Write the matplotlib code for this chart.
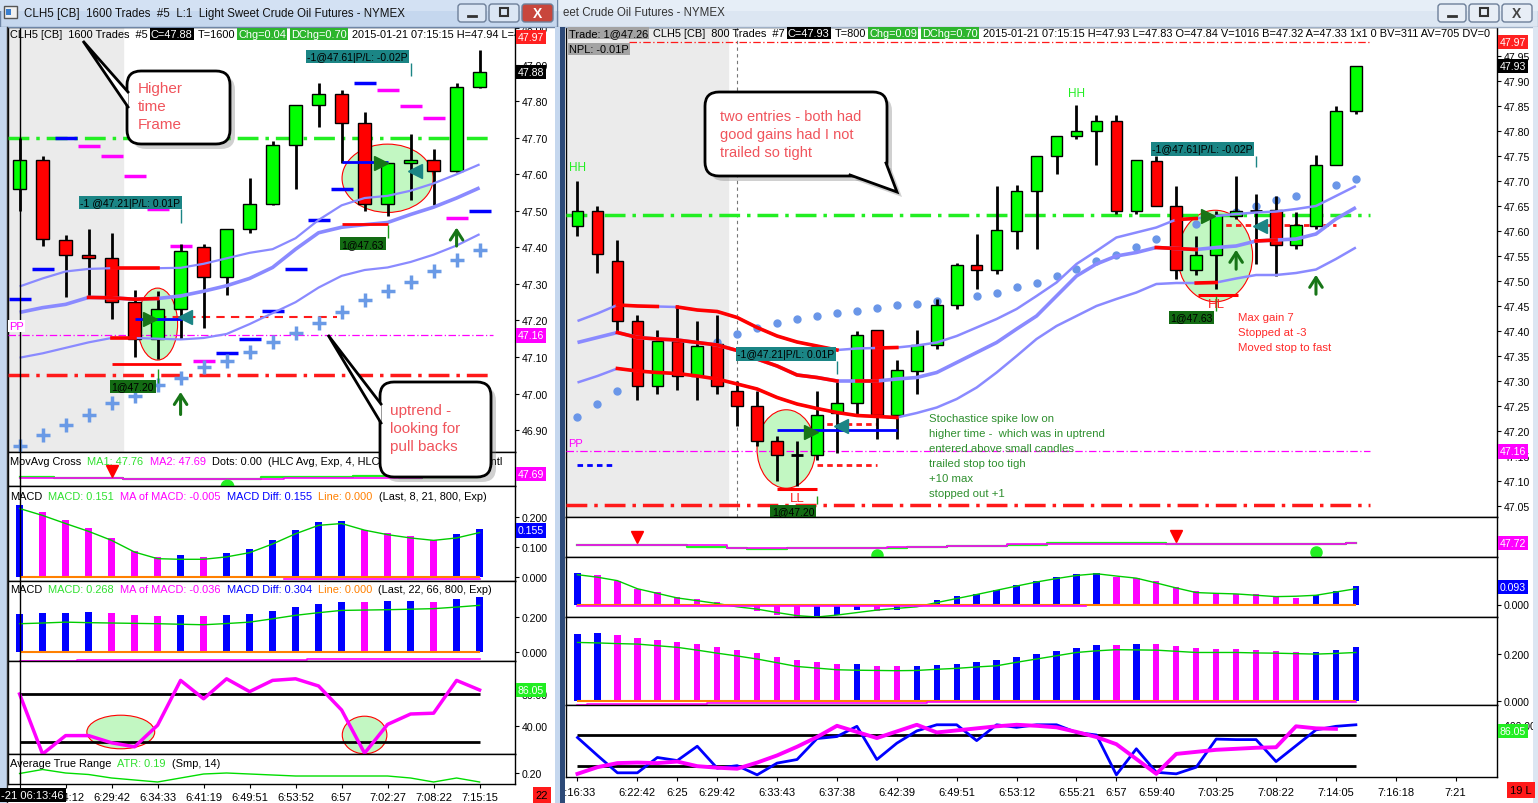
import numpy as np
import matplotlib
matplotlib.use("Agg")
import matplotlib.pyplot as plt
import matplotlib.transforms as mtransforms
from matplotlib.patches import Rectangle, Ellipse, FancyBboxPatch, Polygon

plt.rcParams['font.family'] = ['Liberation Sans', 'DejaVu Sans']

W, H = 1538, 804

# ---------------- left window : CLH5 1600 trades ----------------
l_open = [47.56, 47.64, 47.42, 47.38, 47.37, 47.25, 47.15, 47.23, 47.40, 47.32, 47.45,
          47.52, 47.68, 47.79, 47.82, 47.74, 47.52, 47.63, 47.64, 47.61, 47.84]
l_high = [47.70, 47.65, 47.433, 47.45, 47.44, 47.283, 47.28, 47.41, 47.41, 47.45, 47.59,
          47.69, 47.79, 47.85, 47.83, 47.77, 47.63, 47.71, 47.67, 47.85, 47.94]
l_low = [47.50, 47.405, 47.265, 47.265, 47.205, 47.10, 47.095, 47.15, 47.18, 47.27, 47.44,
         47.515, 47.56, 47.73, 47.63, 47.50, 47.485, 47.53, 47.515, 47.605, 47.835]
l_close = [47.64, 47.424, 47.38, 47.37, 47.25, 47.15, 47.23, 47.39, 47.32, 47.45, 47.52,
           47.68, 47.79, 47.82, 47.74, 47.52, 47.63, 47.64, 47.61, 47.84, 47.88]

l_band_up = [47.293, 47.315, 47.334, 47.341, 47.343, 47.343, 47.343, 47.344, 47.355, 47.37, 47.385,
             47.395, 47.425, 47.475, 47.515, 47.535, 47.541, 47.555, 47.575, 47.60, 47.627]
l_band_mid = [47.222, 47.235, 47.244, 47.263, 47.262, 47.258, 47.26, 47.267, 47.28, 47.295, 47.315,
              47.345, 47.395, 47.44, 47.455, 47.462, 47.468, 47.49, 47.51, 47.535, 47.563]
l_band_low = [47.098, 47.11, 47.125, 47.14, 47.152, 47.152, 47.15, 47.148, 47.152, 47.163, 47.19,
              47.22, 47.25, 47.29, 47.322, 47.338, 47.345, 47.36, 47.38, 47.405, 47.436]
l_red_up = [(4, 6)]
l_red_mid = [(3, 6)]
l_red_low = [(4, 5)]

l_cross = [46.857, 46.886, 46.915, 46.942, 46.973, 46.993, 47.022, 47.042, 47.072, 47.09, 47.114,
           47.14, 47.167, 47.194, 47.224, 47.255, 47.28, 47.306, 47.336, 47.366, 47.394]
l_blue_idx = [0, 1, 2, 9, 10, 11, 12, 13, 14, 15, 20]
l_blue_val = [47.26, 47.34, 47.70, 47.11, 47.148, 47.227, 47.34, 47.474, 47.559, 47.85, 47.50]
l_mag_idx = [3, 4, 5, 6, 7, 8, 16, 17, 18, 19]
l_mag_val = [47.677, 47.65, 47.596, 47.505, 47.405, 47.09, 47.83, 47.787, 47.753, 47.479]

l_ma1 = [47.656, 47.656, 47.649, 47.649, 47.649, 47.638, 47.638, 47.638, 47.638, 47.638, 47.638,
         47.656, 47.662, 47.662, 47.662, 47.672, 47.672, 47.652, 47.655, 47.655, 47.655]
l_ma2 = [47.649, 47.649, 47.649, 47.649, 47.649, 47.638, 47.638, 47.638, 47.638, 47.638, 47.638,
         47.643, 47.648, 47.649, 47.649, 47.652, 47.652, 47.652, 47.655, 47.655, 47.655]

l_m1_hist = [0.241, 0.217, 0.191, 0.163, 0.13, 0.088, 0.068, 0.074, 0.068, 0.081, 0.094,
             0.124, 0.158, 0.183, 0.188, 0.158, 0.148, 0.138, 0.124, 0.144, 0.161]
l_m1_sig = [0.228, 0.205, 0.178, 0.152, 0.122, 0.083, 0.061, 0.059, 0.059, 0.067, 0.081,
            0.11, 0.144, 0.172, 0.178, 0.156, 0.141, 0.13, 0.122, 0.13, 0.148]
l_m1_ma = [np.nan, np.nan, np.nan, np.nan, np.nan, np.nan, np.nan, np.nan, np.nan, np.nan, np.nan,
           np.nan, -0.005, -0.005, -0.005, -0.005, -0.005, -0.005, -0.005, -0.005, -0.005]
l_m2_hist = [0.219, 0.225, 0.226, 0.23, 0.225, 0.213, 0.208, 0.21, 0.208, 0.213, 0.219,
             0.236, 0.259, 0.276, 0.288, 0.287, 0.29, 0.293, 0.288, 0.305, 0.316]
l_m2_sig = [0.162, 0.166, 0.171, 0.168, 0.166, 0.164, 0.162, 0.159, 0.156, 0.163, 0.171,
            0.19, 0.21, 0.225, 0.238, 0.24, 0.242, 0.245, 0.248, 0.257, 0.267]
l_m2_ma = [-0.05, -0.05, -0.05, -0.046, -0.046, -0.046, -0.046, -0.046, -0.046, -0.046, -0.046,
           -0.046, -0.046, -0.04, -0.04, -0.04, -0.04, -0.04, -0.04, -0.04, -0.04]
l_stoch = [80, 5, 28, 28, 19, 14, 41, 97, 74, 99, 83, 97, 99, 90, 60, 6, 42, 55, 56, 97, 85]
l_atr = [0.199, 0.207, 0.200, 0.197, 0.19, 0.186, 0.182, 0.19, 0.198, 0.200, 0.198,
         0.196, 0.194, 0.194, 0.194, 0.194, 0.194, 0.19, 0.182, 0.19, 0.182]
l_tick_pos = [0, 2, 4, 6, 8, 10, 12, 14, 16, 18, 20]
l_tick_lab = ['', '6:24:12', '6:29:42', '6:34:33', '6:41:19', '6:49:51', '6:53:52',
              '6:57', '7:02:27', '7:08:22', '7:15:15']

# ---------------- right window : CLH5 800 trades ----------------
r_open = [47.61, 47.64, 47.54, 47.42, 47.29, 47.38, 47.31, 47.373, 47.28, 47.25, 47.18, 47.152, 47.152,
          47.235, 47.255, 47.402, 47.232, 47.321, 47.371, 47.451, 47.531, 47.521, 47.601, 47.681,
          47.75, 47.79, 47.80, 47.82, 47.641, 47.74, 47.65, 47.521, 47.551, 47.631, 47.64, 47.641,
          47.572, 47.611, 47.731, 47.84]
r_high = [47.70, 47.65, 47.583, 47.432, 47.402, 47.452, 47.42, 47.432, 47.30, 47.28, 47.19, 47.18, 47.28,
          47.30, 47.40, 47.402, 47.342, 47.402, 47.464, 47.537, 47.594, 47.69, 47.692, 47.75,
          47.79, 47.852, 47.832, 47.832, 47.741, 47.75, 47.69, 47.59, 47.641, 47.71, 47.675, 47.67,
          47.637, 47.752, 47.85, 47.93]
r_low = [47.59, 47.515, 47.40, 47.263, 47.273, 47.282, 47.263, 47.273, 47.21, 47.17, 47.10, 47.09, 47.142,
         47.155, 47.23, 47.184, 47.184, 47.274, 47.364, 47.444, 47.484, 47.514, 47.564, 47.564,
         47.714, 47.784, 47.733, 47.634, 47.634, 47.65, 47.504, 47.512, 47.484, 47.624, 47.534, 47.51,
         47.564, 47.604, 47.731, 47.834]
r_close = [47.64, 47.555, 47.42, 47.29, 47.38, 47.31, 47.37, 47.29, 47.25, 47.18, 47.152, 47.152, 47.232,
           47.255, 47.392, 47.232, 47.321, 47.371, 47.451, 47.531, 47.521, 47.601, 47.681, 47.75,
           47.79, 47.80, 47.82, 47.641, 47.741, 47.65, 47.521, 47.551, 47.631, 47.641, 47.64, 47.572,
           47.611, 47.731, 47.84, 47.93]

r_band_up = [47.42, 47.435, 47.452, 47.45, 47.449, 47.448, 47.442, 47.439, 47.427, 47.407, 47.39, 47.378,
             47.37, 47.362, 47.365, 47.366, 47.367, 47.371, 47.377, 47.39, 47.407, 47.424, 47.444, 47.47,
             47.497, 47.534, 47.56, 47.587, 47.597, 47.607, 47.623, 47.625, 47.63, 47.634, 47.637, 47.639,
             47.644, 47.65, 47.67, 47.69]
r_band_mid = [47.377, 47.387, 47.397, 47.387, 47.384, 47.382, 47.377, 47.372, 47.361, 47.344, 47.33, 47.312,
              47.307, 47.30, 47.30, 47.30, 47.304, 47.307, 47.317, 47.337, 47.357, 47.377, 47.404, 47.43,
              47.47, 47.51, 47.534, 47.55, 47.557, 47.567, 47.565, 47.563, 47.567, 47.57, 47.58, 47.582,
              47.584, 47.594, 47.624, 47.647]
r_band_low = [47.297, 47.31, 47.325, 47.32, 47.317, 47.315, 47.31, 47.304, 47.294, 47.284, 47.267, 47.254,
              47.245, 47.237, 47.231, 47.229, 47.227, 47.236, 47.247, 47.264, 47.287, 47.317, 47.35, 47.384,
              47.41, 47.43, 47.45, 47.464, 47.477, 47.494, 47.496, 47.496, 47.497, 47.505, 47.512, 47.512,
              47.516, 47.523, 47.544, 47.567]
r_red_up = [(2, 4), (5, 13), (15, 16), (30, 31)]
r_red_mid = [(2, 13), (14, 15), (29, 31), (34, 35)]
r_red_low = [(2, 16), (31, 32)]
r_dots = [47.228, 47.254, 47.279, 47.30, 47.32, 47.34, 47.357, 47.377, 47.394, 47.406, 47.416, 47.424,
          47.431, 47.436, 47.44, 47.446, 47.451, 47.454, 47.459, 47.465, 47.471, 47.476, 47.487, 47.496,
          47.509, 47.523, 47.539, 47.552, 47.567, 47.584, 47.60, 47.614, 47.625, 47.637, 47.649, 47.661,
          47.671, 47.68, 47.692, 47.704]

r_ma1 = [47.70, 47.70, 47.70, 47.70, 47.70, 47.70, 47.677, 47.677, 47.673, 47.665, 47.665, 47.667, 47.667,
         47.667, 47.667, 47.667, 47.673, 47.676, 47.68, 47.687, 47.687, 47.69, 47.70, 47.70, 47.717, 47.717,
         47.717, 47.717, 47.717, 47.717, 47.707, 47.707, 47.707, 47.707, 47.707, 47.707, 47.707, 47.707,
         47.707, 47.72]
r_ma2 = [47.70, 47.70, 47.70, 47.70, 47.70, 47.70, 47.70, 47.70, 47.673, 47.673, 47.673, 47.667, 47.667,
         47.667, 47.667, 47.667, 47.68, 47.68, 47.68, 47.69, 47.69, 47.69, 47.707, 47.707, 47.707, 47.707,
         47.707, 47.707, 47.707, 47.707, 47.707, 47.707, 47.707, 47.707, 47.707, 47.707, 47.707, 47.707,
         47.707, 47.72]

r_m1_hist = [0.165, 0.155, 0.124, 0.082, 0.065, 0.041, 0.031, 0.014, 0.003, -0.033, -0.052, -0.065, -0.062,
             -0.055, -0.031, -0.034, -0.026, -0.012, 0.021, 0.045, 0.055, 0.077, 0.103, 0.124, 0.144, 0.160,
             0.165, 0.143, 0.137, 0.12, 0.089, 0.069, 0.062, 0.055, 0.054, 0.041, 0.036, 0.052, 0.072, 0.096]
r_m1_sig = [0.155, 0.142, 0.124, 0.082, 0.058, 0.034, 0.02, 0.005, -0.012, -0.024, -0.042, -0.058, -0.065,
            -0.055, -0.042, -0.029, -0.02, -0.012, 0.01, 0.031, 0.052, 0.074, 0.096, 0.117, 0.135, 0.151,
            0.16, 0.148, 0.137, 0.112, 0.086, 0.062, 0.058, 0.055, 0.048, 0.041, 0.043, 0.048, 0.065, 0.082]
r_m1_ma = [-0.007, -0.007, -0.007, -0.007, -0.007, -0.007, -0.007, -0.007, -0.007, -0.007, -0.007, -0.007,
           -0.007, -0.007, -0.007, -0.007, -0.007, -0.007, -0.007, -0.007, -0.007, -0.007, -0.007, -0.007,
           -0.007, -0.007, np.nan, np.nan, np.nan, np.nan, np.nan, np.nan, np.nan, np.nan, np.nan, np.nan,
           np.nan, np.nan, np.nan, np.nan]
r_m2_hist = [0.286, 0.29, 0.281, 0.269, 0.26, 0.251, 0.243, 0.231, 0.217, 0.204, 0.187, 0.174, 0.166, 0.156,
             0.157, 0.149, 0.148, 0.149, 0.153, 0.157, 0.166, 0.174, 0.187, 0.2, 0.213, 0.226, 0.239, 0.238,
             0.243, 0.242, 0.234, 0.226, 0.221, 0.22, 0.217, 0.213, 0.209, 0.21, 0.217, 0.23]
r_m2_sig = [0.25, 0.248, 0.245, 0.243, 0.236, 0.229, 0.217, 0.204, 0.192, 0.179, 0.163, 0.147, 0.14, 0.133,
            0.131, 0.13, 0.129, 0.13, 0.135, 0.139, 0.145, 0.15, 0.165, 0.179, 0.193, 0.207, 0.214, 0.219,
            0.218, 0.217, 0.212, 0.207, 0.207, 0.207, 0.205, 0.204, 0.202, 0.2, 0.203, 0.207]
r_m2_ma = [-0.016, -0.012, -0.012, -0.012, -0.012, -0.012, -0.012, -0.009, -0.009, -0.009, -0.009, -0.009,
           -0.009, -0.009, -0.009, -0.009, -0.009, -0.009, -0.006, -0.006, -0.006, -0.006, -0.006, -0.006,
           -0.006, -0.006, -0.006, -0.006, -0.006, -0.006, -0.006, -0.006, -0.006, -0.006, -0.006, -0.004,
           -0.004, -0.004, -0.004, -0.004]
r_stoch_k = [75, 40, 6, 6, 36, 30, 58, 15, 20, 2, 25, 32, 73, 77, 97, 32, 64, 88, 100, 100, 69, 100, 95,
             100, 100, 85, 80, 2, 53, 7, 4, 17, 72, 71, 71, 28, 59, 90, 97, 100]
r_stoch_d = [4, 17, 25, 26, 25, 28, 19, 16, 14, 26, 40, 57, 76, 98, 86, 74, 87, 100, 85, 89, 93, 97, 100,
             98, 95, 86, 76, 62, 33, 4, 43, 47, 51, 53, 55, 56, 97, 93, 92, np.nan]
r_tick_pos = [0, 3, 5, 7, 10, 13, 16, 19, 22, 25, 27, 29, 32, 35, 38, 41, 44]
r_tick_lab = ['6:16:33', '6:22:42', '6:25', '6:29:42', '6:33:43', '6:37:38', '6:42:39', '6:49:51',
              '6:53:12', '6:55:21', '6:57', '6:59:40', '7:03:25', '7:08:22', '7:14:05', '7:16:18', '7:21']

GREEN = '#00ff00'
LAV = '#8a8aff'
MAG = '#ff00ff'
BLUE = '#0000ff'
TEAL = '#1b8585'
DKGREEN = '#177517'

fig = plt.figure(figsize=(W / 100, H / 100), dpi=100)
fig.patch.set_facecolor('white')


def panel(x0, y0, x1, y1, xlim, ylim):
    ax = fig.add_axes([x0 / W, 1 - y1 / H, (x1 - x0) / W, (y1 - y0) / H])
    ax.set_xlim(*xlim)
    ax.set_ylim(*ylim)
    ax.yaxis.tick_right()
    ax.set_xticks([])
    ax.tick_params(axis='y', direction='out', length=3, pad=2, labelsize=7.6, width=0.8)
    for s in ax.spines.values():
        s.set_color('black')
        s.set_linewidth(1)
    ax.px_w = x1 - x0
    return ax


def yticks(ax, vals, fmt):
    ax.set_yticks(vals)
    ax.set_yticklabels([fmt % v for v in vals])


def flag(ax, y, txt, fc, tc='white'):
    tr = mtransforms.blended_transform_factory(ax.transAxes, ax.transData)
    ax.text(1 + 3 / ax.px_w, y, txt, transform=tr, ha='left', va='center', fontsize=7.6, color=tc,
            bbox=dict(boxstyle='square,pad=0.2', fc=fc, ec='none'), zorder=30, clip_on=False)


def candles(ax, o, h, l, c, width):
    o, h, l, c = map(np.asarray, (o, h, l, c))
    x = np.arange(len(o))
    ax.vlines(x, l, h, color='black', lw=2, zorder=5)
    up, dn, flat = c > o, c < o, c == o
    ax.bar(x[up], (c - o)[up], bottom=o[up], width=width, color=GREEN, edgecolor='black', lw=1, zorder=6)
    ax.bar(x[dn], (o - c)[dn], bottom=c[dn], width=width, color='#ff0000', edgecolor='black', lw=1, zorder=6)
    ax.hlines(o[flat], x[flat] - width / 2, x[flat] + width / 2, color='black', lw=2, zorder=6)


def band(ax, vals, reds, lw):
    x = np.arange(len(vals))
    v = np.asarray(vals)
    ax.plot(x, v, color=LAV, lw=lw, zorder=7, solid_capstyle='butt')
    for a, b in reds:
        ax.plot(x[a:b + 1], v[a:b + 1], color='#ff0000', lw=2.6, zorder=7)


def macd(ax, hist, sig, ma, width):
    hist = np.asarray(hist)
    x = np.arange(len(hist))
    prev = np.concatenate([[hist[0] - 1], hist[:-1]])
    cols = np.where(hist > prev, BLUE, MAG)
    ax.bar(x, hist, width=width, color=cols, zorder=3)
    ax.plot(x, sig, color='#00cc00', lw=1, zorder=4)
    ax.hlines(0, 0, len(hist) - 1, color='#ff8000', lw=1.5, zorder=4)
    ax.step(x, np.asarray(ma, dtype=float), where='mid', color=MAG, lw=1.2, zorder=4)


def tag(ax, x, y, txt, fc):
    ax.text(x, y, txt, ha='left', va='center', fontsize=7.5, color='black', zorder=12,
            bbox=dict(boxstyle='square,pad=0.15', fc=fc, ec='none'))


def up_arrow(ax, x, y0, y1):
    ax.annotate('', xy=(x, y1), xytext=(x, y0), zorder=12,
                arrowprops=dict(arrowstyle='->,head_length=0.7,head_width=0.45', color=DKGREEN, lw=2.2))


# ================= left panels =================
LX = (-0.504, 21.54)
axL = panel(8, 28, 515, 453, LX, (46.84, 48.003))
axL_mov = panel(8, 453, 515, 487, LX, (47.566, 47.917))
axL_m1 = panel(8, 487, 515, 582, LX, (-0.0133, 0.303))
axL_m2 = panel(8, 582, 515, 662, LX, (-0.051, 0.406))
axL_st = panel(8, 662, 515, 755, LX, (5, 121.25))
axL_atr = panel(8, 755, 515, 785, LX, (0.178, 0.238))

ax = axL
ax.axvspan(LX[0], 4.5, color='#ebebeb', zorder=0)
ax.add_patch(Ellipse((6.0, 47.19), 1.74, 0.197, fc='#c2f7c2', ec='red', lw=0.8, zorder=1))
ax.add_patch(Ellipse((16.0, 47.589), 3.96, 0.187, fc='#c2f7c2', ec='red', lw=0.8, zorder=1))
ax.hlines(47.70, LX[0], 20.6, color='#22ee22', lw=2.5, ls=(0, (6, 2, 1, 2)), zorder=3)
ax.hlines(47.05, LX[0], 20.6, color='#ff1a1a', lw=2.5, ls=(0, (6, 2, 1, 2)), zorder=3)
ax.hlines(47.16, LX[0], 20.6, color=MAG, lw=0.9, ls=(0, (6, 2, 1, 2)), zorder=3)
ax.hlines(47.21, 6, 13.8, color='#ff1a1a', lw=1.5, ls=(0, (4, 3)), zorder=3)
ax.hlines(l_blue_val, np.array(l_blue_idx) - 0.48, np.array(l_blue_idx) + 0.48, color=BLUE, lw=2.5, zorder=4)
ax.hlines(l_mag_val, np.array(l_mag_idx) - 0.48, np.array(l_mag_idx) + 0.48, color=MAG, lw=2.5, zorder=4)
ax.plot(range(21), l_cross, ls='none', marker='+', ms=10, mew=2.5, color='#6a9ae6', zorder=7)
candles(ax, l_open, l_high, l_low, l_close, 0.6)
band(ax, l_band_up, l_red_up, 1.6)
band(ax, l_band_mid, l_red_mid, 2.6)
band(ax, l_band_low, l_red_low, 1.6)
ax.hlines(47.204, 5, 7.05, color=BLUE, lw=2, zorder=9)
ax.hlines(47.082, 4, 7, color='#ff0000', lw=2, zorder=9)
ax.hlines(47.633, 14, 16, color=BLUE, lw=2, zorder=9)
ax.hlines(47.464, 14, 16, color='#ff0000', lw=2, zorder=9)
ax.plot(5.67, 47.205, marker='>', ms=10, color=DKGREEN, zorder=10)
ax.plot(7.2, 47.21, marker='<', ms=10, color=TEAL, zorder=10)
ax.plot(15.7, 47.63, marker='>', ms=10, color=DKGREEN, zorder=10)
ax.plot(17.2, 47.61, marker='<', ms=10, color=TEAL, zorder=10)
up_arrow(ax, 7, 46.935, 47.012)
up_arrow(ax, 19, 47.396, 47.462)
tag(ax, 2.63, 47.522, '-1 @47.21|P/L: 0.01P', TEAL)
ax.vlines(7, 47.468, 47.506, color=TEAL, lw=1, zorder=11)
tag(ax, 12.5, 47.922, '-1@47.61|P/L: -0.02P', TEAL)
ax.vlines(17, 47.868, 47.904, color=TEAL, lw=1, zorder=11)
tag(ax, 14.0, 47.41, '1@47.63', '#136b13')
ax.vlines(16, 47.425, 47.46, color='#1a9a1a', lw=1, zorder=11)
tag(ax, 4.0, 47.019, '1@47.20', '#136b13')
ax.vlines(6, 47.03, 47.068, color='#1a9a1a', lw=1, zorder=11)
yticks(ax, [46.9, 47.0, 47.1, 47.2, 47.3, 47.4, 47.5, 47.6, 47.7, 47.8, 47.9, 48.0], '%.2f')
flag(ax, 47.975, '47.97', '#ff2020')
flag(ax, 47.88, '47.88', 'black')
flag(ax, 47.159, '47.16', MAG)

ax = axL_mov
ax.step(range(21), l_ma1, where='mid', color='#22ee22', lw=1.6, zorder=3)
ax.step(range(21), l_ma2, where='mid', color=MAG, lw=1.2, zorder=4)
ax.plot(4, 47.721, marker='v', ms=8, color='#ff0000', zorder=5)
ax.plot(9, 47.566, marker='o', ms=9, color='#22ee22', zorder=5)
ax.set_yticks([])
flag(ax, 47.69, '47.69', MAG)

macd(axL_m1, l_m1_hist, l_m1_sig, l_m1_ma, 0.3)
yticks(axL_m1, [0.0, 0.1, 0.2], '%.3f')
flag(axL_m1, 0.155, '0.155', BLUE)
macd(axL_m2, l_m2_hist, l_m2_sig, l_m2_ma, 0.3)
yticks(axL_m2, [0.0, 0.2], '%.3f')

ax = axL_st
ax.add_patch(Ellipse((4.4, 32.5), 2.95, 42, fc='#c2f7c2', ec='red', lw=0.8, zorder=1))
ax.add_patch(Ellipse((15.0, 28.75), 1.94, 47, fc='#c2f7c2', ec='red', lw=0.8, zorder=1))
ax.hlines([20, 80], 0, 20, color='black', lw=2, zorder=2)
ax.plot(range(21), l_stoch, color=MAG, lw=2.5, zorder=3)
yticks(ax, [40, 80], '%.2f')
flag(ax, 85, '86.05', '#22ee22')

ax = axL_atr
ax.plot(range(21), l_atr, color='#00dd00', lw=1, zorder=3)
yticks(ax, [0.20], '%.2f')
ax.set_xticks(l_tick_pos)
ax.set_xticklabels(l_tick_lab)
ax.tick_params(axis='x', direction='out', length=3, pad=3, labelsize=8)

for a in (axL, axL_mov, axL_m1, axL_m2, axL_st, axL_atr):
    a.axvline(0, color='black', lw=1, zorder=8)

# ================= right panels =================
RX = (-0.576, 46.07)
axR = panel(566, 28, 1497, 518, RX, (47.028, 48.008))
axR_mov = panel(566, 518, 1497, 558, RX, (47.58, 47.98))
axR_m1 = panel(566, 558, 1497, 618, RX, (-0.065, 0.247))
axR_m2 = panel(566, 618, 1497, 706, RX, (-0.018, 0.359))
axR_st = panel(566, 706, 1497, 778, RX, (-2.2, 138.7))

ax = axR
ax.axvspan(RX[0], 7.54, color='#ebebeb', zorder=0)
ax.axvline(8, color='#777777', lw=0.8, ls=(0, (3, 3)), zorder=2)
ax.add_patch(Ellipse((10.46, 47.164), 2.93, 0.157, fc='#c2f7c2', ec='red', lw=0.8, zorder=1))
ax.add_patch(Ellipse((31.95, 47.55), 3.75, 0.183, fc='#c2f7c2', ec='red', lw=0.8, zorder=1))
ax.hlines(47.632, RX[0], 39.7, color='#22ee22', lw=2.5, ls=(0, (6, 2, 1, 2)), zorder=3)
ax.hlines(47.052, RX[0], 39.7, color='#ff1a1a', lw=2.5, ls=(0, (6, 2, 1, 2)), zorder=3)
ax.hlines(47.159, RX[0], 39.7, color=MAG, lw=0.9, ls=(0, (6, 2, 1, 2)), zorder=3)
ax.hlines(47.978, 2.6, 39.7, color='#ff1a1a', lw=0.9, ls=(0, (6, 2, 1, 2)), zorder=3)
ax.hlines(47.132, 0, 1.8, color=BLUE, lw=2, ls=(0, (2, 1.5)), zorder=3)
ax.hlines([47.213, 47.132], 12, 15, color='#ff1a1a', lw=2, ls=(0, (2, 1.5)), zorder=3)
ax.hlines(47.612, 32, 38, color='#ff1a1a', lw=2, ls=(0, (2, 1.5)), zorder=3)
ax.plot(range(40), r_dots, ls='none', marker='o', ms=5, color='#6a96e8', zorder=4)
candles(ax, r_open, r_high, r_low, r_close, 0.58)
band(ax, r_band_up, r_red_up, 1.8)
band(ax, r_band_mid, r_red_mid, 2.6)
band(ax, r_band_low, r_red_low, 1.8)
ax.hlines(47.202, 10, 16, color=BLUE, lw=2, zorder=9)
ax.hlines(47.083, 10, 12, color='#ff0000', lw=2.2, zorder=9)
ax.hlines(47.472, 31.1, 33.1, color='#ff0000', lw=2.2, zorder=9)
ax.plot(11.7, 47.198, marker='>', ms=10, color=DKGREEN, zorder=10)
ax.plot(13.2, 47.21, marker='<', ms=10, color=TEAL, zorder=10)
ax.plot(31.6, 47.63, marker='>', ms=10, color=DKGREEN, zorder=10)
ax.plot(34.2, 47.61, marker='<', ms=10, color=TEAL, zorder=10)
up_arrow(ax, 33, 47.518, 47.568)
up_arrow(ax, 37, 47.468, 47.518)
tag(ax, 8.0, 47.354, '-1@47.21|P/L: 0.01P', TEAL)
ax.vlines(13, 47.314, 47.34, color=TEAL, lw=1, zorder=11)
tag(ax, 28.8, 47.764, '-1@47.61|P/L: -0.02P', TEAL)
ax.vlines(34, 47.728, 47.75, color=TEAL, lw=1, zorder=11)
tag(ax, 9.74, 47.039, '1@47.20', '#136b13')
ax.vlines(12, 47.054, 47.07, color='#1a9a1a', lw=1, zorder=11)
tag(ax, 29.7, 47.427, '1@47.63', '#136b13')
ax.vlines(32, 47.44, 47.47, color='#1a9a1a', lw=1, zorder=11)
ax.text(0, 47.728, 'HH', color='#22ee22', fontsize=8.5, ha='center', va='center', zorder=12)
ax.text(25, 47.876, 'HH', color='#22ee22', fontsize=8.5, ha='center', va='center', zorder=12)
ax.text(11, 47.066, 'LL', color='#ff2020', fontsize=9.5, ha='center', va='center', zorder=12)
ax.text(32, 47.454, 'HL', color='#ff2020', fontsize=9.5, ha='center', va='center', zorder=12)
yticks(ax, [47.05, 47.10, 47.15, 47.20, 47.25, 47.30, 47.35, 47.40, 47.45, 47.50, 47.55, 47.60,
            47.65, 47.70, 47.75, 47.80, 47.85, 47.90, 47.95], '%.2f')
flag(ax, 47.978, '47.97', '#ff2020')
flag(ax, 47.93, '47.93', 'black')
flag(ax, 47.159, '47.16', MAG)

ax = axR_mov
ax.step(range(40), r_ma1, where='mid', color='#22ee22', lw=1.6, zorder=3)
ax.step(range(40), r_ma2, where='mid', color=MAG, lw=1.2, zorder=4)
ax.plot([3, 30], [47.78, 47.79], ls='none', marker='v', ms=8, color='#ff0000', zorder=5)
ax.plot([15, 37], [47.60, 47.63], ls='none', marker='o', ms=8, color='#22ee22', zorder=5)
ax.set_yticks([])
flag(ax, 47.72, '47.72', MAG)

macd(axR_m1, r_m1_hist, r_m1_sig, r_m1_ma, 0.32)
yticks(axR_m1, [0.0], '%.3f')
flag(axR_m1, 0.093, '0.093', BLUE)
macd(axR_m2, r_m2_hist, r_m2_sig, r_m2_ma, 0.32)
yticks(axR_m2, [0.0, 0.2], '%.3f')

ax = axR_st
ax.hlines([20, 80], 0, 39, color='black', lw=2, zorder=2)
ax.plot(range(40), r_stoch_k, color=BLUE, lw=2, zorder=3)
ax.plot(range(40), r_stoch_d, color=MAG, lw=2.8, zorder=4)
yticks(ax, [100], '%.2f')
flag(ax, 88, '86.05', '#22ee22')
ax.set_xticks(r_tick_pos)
ax.set_xticklabels(r_tick_lab)
ax.tick_params(axis='x', direction='out', length=3, pad=4, labelsize=8)

# ================= overlay: window chrome, headers, callouts =================
ov = fig.add_axes([0, 0, 1, 1], zorder=20)
ov.set_xlim(0, W)
ov.set_ylim(H, 0)
ov.axis('off')
ov.patch.set_alpha(0)
renderer = fig.canvas.get_renderer()

# title bars and frames
ov.add_patch(Rectangle((557, 0), W - 557, 28, fc='#dce6f2', ec='#9fb0c6', lw=1))
ov.add_patch(Rectangle((557, 0), W - 557, 12, fc='#e6eef7', ec='none'))
ov.add_patch(Rectangle((0, 0), 557, 28, fc='#c5d7ee', ec='#6f86a6', lw=1))
ov.add_patch(Rectangle((0, 0), 557, 12, fc='#d3e1f3', ec='none'))
ov.add_patch(Rectangle((0, 28), 7, H - 28, fc='#c5d7ee', ec='none'))
ov.add_patch(Rectangle((555, 28), 5, H - 28, fc='#c5d7ee', ec='none'))
ov.add_patch(Rectangle((560, 28), 5, H - 28, fc='#2d4a78', ec='none'))
ov.add_patch(Rectangle((1533, 28), 5, H - 28, fc='#dce6f2', ec='none'))
ov.plot([7, 7], [28, H], color='#333333', lw=1)
ov.add_patch(Rectangle((4, 7), 13, 12, fc='#f0f0f0', ec='#555555', lw=1))
ov.add_patch(Rectangle((6, 10), 5, 6, fc='#3a7fd0', ec='none'))
ov.text(24, 14, 'CLH5 [CB]  1600 Trades  #5  L:1  Light Sweet Crude Oil Futures - NYMEX',
        fontsize=8.3, va='center', color='#111111')
ov.text(563, 13, 'eet Crude Oil Futures - NYMEX', fontsize=8.3, va='center', color='#333333')


def button(x, w, fc, kind, gc='#333333'):
    ov.add_patch(FancyBboxPatch((x, 5), w, 18, boxstyle='round,pad=0,rounding_size=3',
                                fc=fc, ec='#6d7f99', lw=1))
    cx = x + w / 2
    if kind == 'min':
        ov.plot([cx - 4, cx + 4], [17, 17], color=gc, lw=2)
    elif kind == 'max':
        ov.add_patch(Rectangle((cx - 4, 9), 8, 8, fill=False, ec=gc, lw=1.5))
    else:
        ov.text(cx, 14, 'X', color=gc, fontsize=10, fontweight='bold', ha='center', va='center')


button(458, 28, '#dbe6f4', 'min')
button(489, 30, '#dbe6f4', 'max')
button(522, 31, '#c8463c', 'close', 'white')
button(1438, 28, '#e8eef6', 'min')
button(1469, 30, '#e8eef6', 'max')
button(1502, 30, '#e8eef6', 'close', '#444444')


def rich(x, y, pieces, size=7.9, clip_ax=None):
    em = size * 100 / 72
    for txt, col, bg in pieces:
        body = txt.rstrip(' ')
        nsp = len(txt) - len(body)
        kw = {}
        if bg:
            kw['bbox'] = dict(boxstyle='square,pad=0.1', fc=bg, ec='none')
        t = ov.text(x, y, body, color=col, fontsize=size, ha='left', va='center', zorder=25, **kw)
        if clip_ax is not None:
            t.set_clip_box(clip_ax.bbox)
            t.set_clip_on(True)
        x += t.get_window_extent(renderer=renderer).width + nsp * 0.278 * em + (2 if bg else 0)


LIME = '#2fe02f'
CHG = '#2db52d'
rich(10, 35, [('CLH5 [CB]  1600 Trades  #5 ', 'black', None), ('C=47.88', 'white', 'black'),
              (' ', 'black', None), ('T=1600 ', 'black', None), ('Chg=0.04', 'white', CHG), (' ', 'black', None),
              ('DChg=0.70', 'white', CHG), (' ', 'black', None),
              ('2015-01-21 07:15:15 H=47.94 L=47.83', 'black', None)], clip_ax=axL)
rich(569, 34, [('Trade: 1@47.26', 'black', '#a3a3a3'), (' ', 'black', None),
               ('CLH5 [CB]  800 Trades  #7 ', 'black', None), ('C=47.93', 'white', 'black'), (' ', 'black', None),
               ('T=800 ', 'black', None), ('Chg=0.09', 'white', CHG), (' ', 'black', None),
               ('DChg=0.70', 'white', CHG), (' ', 'black', None),
               ('2015-01-21 07:15:15 H=47.93 L=47.83 O=47.84 V=1016 B=47.32 A=47.33 1x1 0 BV=311 AV=705 DV=0',
                'black', None)], clip_ax=axR)
rich(569, 50, [('NPL: -0.01P', 'black', '#a3a3a3')])

rich(10, 462, [('MovAvg Cross  ', 'black', None), ('MA1: 47.76  ', LIME, None), ('MA2: 47.69  ', MAG, None),
               ('Dots: 0.00  ', 'black', None),
               ('(HLC Avg, Exp, 4, HLC Avg, Exp, 9, Last, Countl', 'black', None)], clip_ax=axL_mov)
rich(10, 497, [('MACD  ', 'black', None), ('MACD: 0.151  ', LIME, None), ('MA of MACD: -0.005  ', MAG, None),
               ('MACD Diff: 0.155  ', BLUE, None), ('Line: 0.000  ', '#ff8000', None),
               ('(Last, 8, 21, 800, Exp)', 'black', None)])
rich(10, 590, [('MACD  ', 'black', None), ('MACD: 0.268  ', LIME, None), ('MA of MACD: -0.036  ', MAG, None),
               ('MACD Diff: 0.304  ', BLUE, None), ('Line: 0.000  ', '#ff8000', None),
               ('(Last, 22, 66, 800, Exp)', 'black', None)])
rich(10, 764, [('Average True Range  ', 'black', None), ('ATR: 0.19  ', LIME, None), ('(Smp, 14)', 'black', None)])

ov.text(9, 327, 'PP', color=MAG, fontsize=8, va='center', bbox=dict(boxstyle='square,pad=0.1', fc='white', ec='none'))
ov.text(568, 444, 'PP', color=MAG, fontsize=8, va='center')

ov.text(1, 796, '-21 06:13:46', color='white', fontsize=8, va='center',
        bbox=dict(boxstyle='square,pad=0.2', fc='black', ec='none'))
ov.text(542, 796, '22', color='black', fontsize=8, ha='center', va='center',
        bbox=dict(boxstyle='square,pad=0.25', fc='#ff1a1a', ec='none'))
ov.text(1521, 791, '19 L', color='black', fontsize=8, ha='center', va='center',
        bbox=dict(boxstyle='square,pad=0.25', fc='#ff1a1a', ec='none'))

for k, line in enumerate(['Stochastice spike low on', 'higher time -  which was in uptrend',
                          'entered above small candles', 'trailed stop too tigh', '+10 max', 'stopped out +1']):
    ov.text(929, 419 + 15 * k, line, color='#2e8f2e', fontsize=8.2, va='center')
for k, line in enumerate(['Max gain 7', 'Stopped at -3', 'Moved stop to fast']):
    ov.text(1238, 318 + 15 * k, line, color='#ff2a2a', fontsize=8.2, va='center')


def callout(x, y, w, h, tail, lines, tx, ty, dy, size):
    tip = tail[1]
    sh = [(px + 5, py + 5) for px, py in tail]
    ov.add_patch(FancyBboxPatch((x + 5, y + 5), w, h, boxstyle='round,pad=0,rounding_size=14',
                                fc='#7a7a7a', ec='none', alpha=0.35, zorder=40))
    ov.add_patch(Polygon(sh, closed=True, fc='#7a7a7a', ec='none', alpha=0.35, zorder=40))
    ov.add_patch(FancyBboxPatch((x, y), w, h, boxstyle='round,pad=0,rounding_size=14',
                                fc='white', ec='black', lw=2, zorder=41))
    ov.add_patch(Polygon(tail, closed=True, fc='white', ec='none', zorder=42))
    ov.plot([tail[0][0], tip[0], tail[2][0]], [tail[0][1], tip[1], tail[2][1]], color='black', lw=2,
            zorder=43, solid_joinstyle='miter')
    for k, line in enumerate(lines):
        ov.text(tx, ty + dy * k, line, color='#f0545c', fontsize=size, va='center', zorder=44)


callout(127, 72, 103, 73, [(128, 93), (83, 42), (128, 108)], ['Higher', 'time', 'Frame'], 138, 89, 18, 11)
callout(380, 383, 111, 95, [(381, 405), (328, 336), (381, 424)], ['uptrend -', 'looking for', 'pull backs'],
        390, 411, 18, 11)
callout(705, 93, 182, 84, [(850, 176), (897, 193), (886, 164)],
        ['two entries - both had', 'good gains had I not', 'trailed so tight'], 720, 117, 18, 10.5)

fig.savefig('out.png', dpi=100)
